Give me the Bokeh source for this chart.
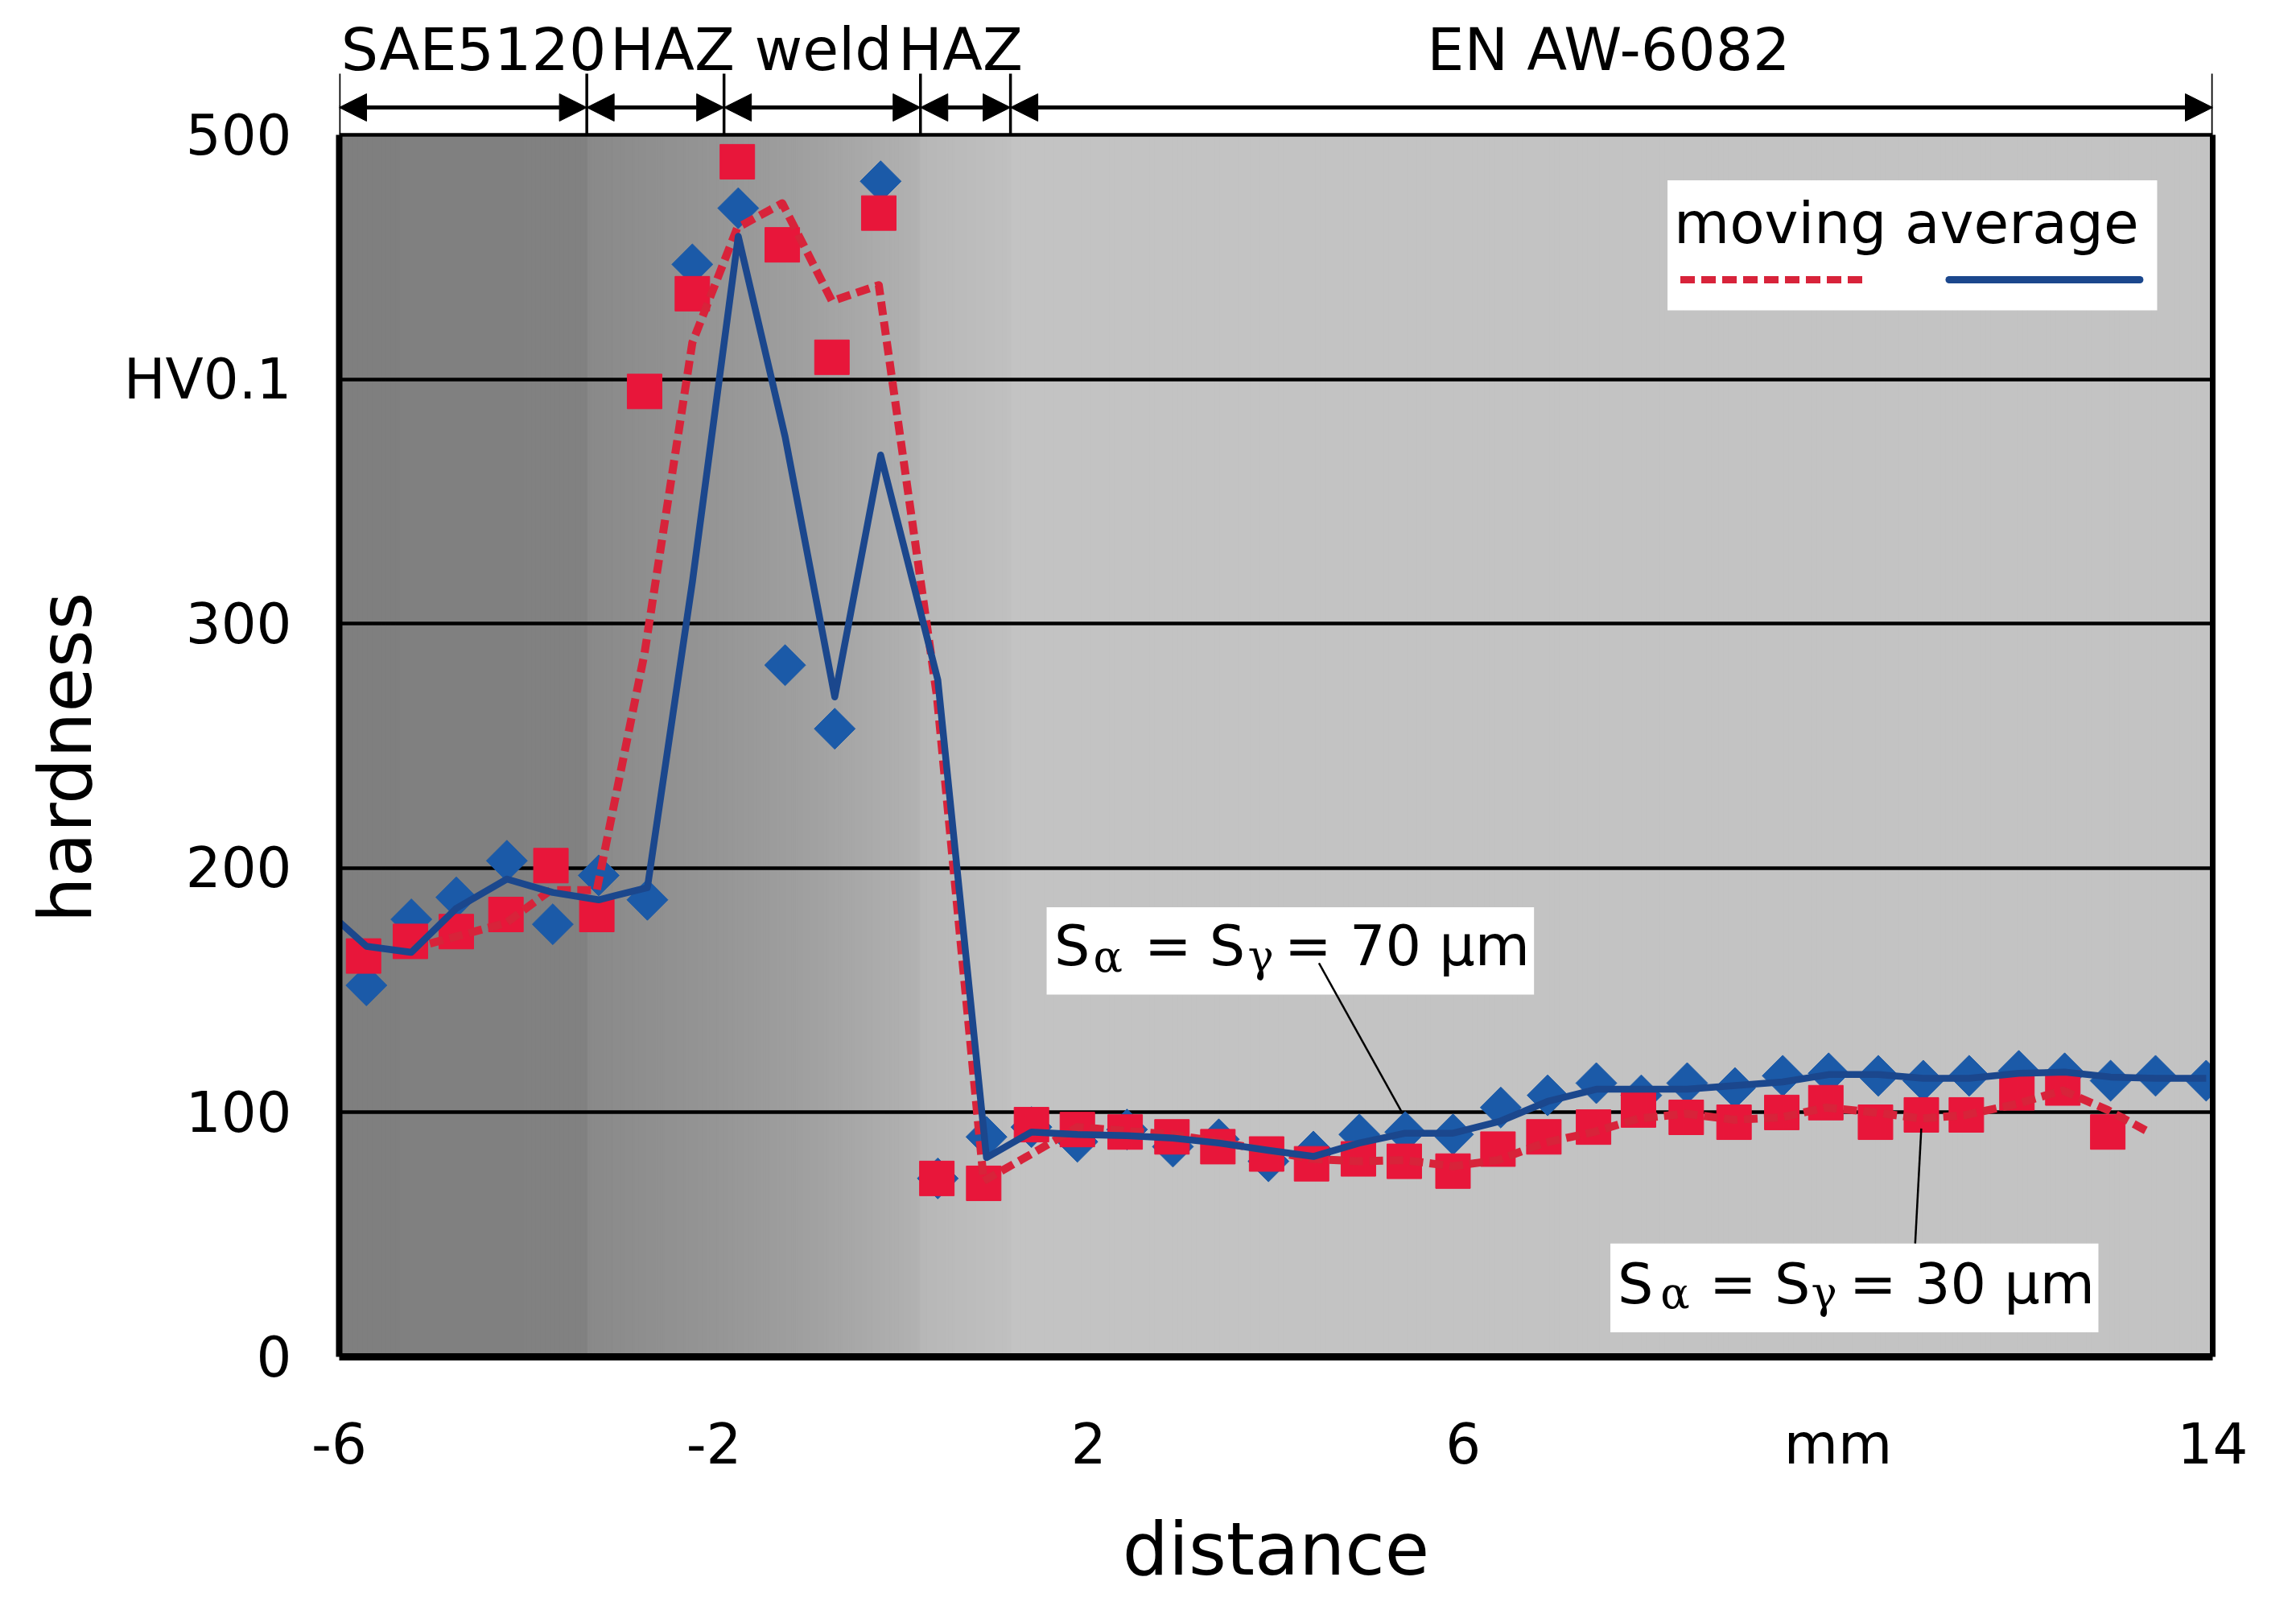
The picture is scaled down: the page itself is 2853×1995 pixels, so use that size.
import numpy as np
import pandas as pd
from bokeh.plotting import figure
from bokeh.models import (Range1d, FixedTicker, LinearAxis, Label, BoxAnnotation,
                          Arrow, NormalHead, ColumnDataSource, Title)
from bokeh.embed import file_html
from bokeh.resources import INLINE

# ---------------- data ----------------
# S = 70 um series (blue diamonds)
blue_x = [-5.71, -5.23, -4.75, -4.21, -3.72, -3.23, -2.71, -2.23, -1.74, -1.24, -0.71, -0.22,
          0.39, 0.91, 1.39, 1.88, 2.41, 2.90, 3.39, 3.92, 4.40, 4.89, 5.38, 5.89, 6.40, 6.90,
          7.42, 7.90, 8.39, 8.90, 9.41, 9.90, 10.43, 10.91, 11.40, 11.93, 12.42, 12.91, 13.39, 13.93]
blue_y = [152, 179, 188, 203, 177, 197, 187, 447, 470, 283, 257, 481,
          73, 90, 94, 88, 93, 86, 89, 80, 84, 91, 92, 91, 102, 107,
          112, 107, 112, 110, 115, 116, 115, 113, 115, 117, 116, 113, 115, 113]
# S = 30 um series (red squares)
red_x = [-5.74, -5.24, -4.75, -4.22, -3.74, -3.25, -2.74, -2.23, -1.75, -1.27, -0.74, -0.24,
         0.38, 0.88, 1.39, 1.88, 2.39, 2.89, 3.38, 3.90, 4.38, 4.88, 5.37, 5.89, 6.37, 6.86,
         7.39, 7.87, 8.38, 8.89, 9.40, 9.87, 10.40, 10.89, 11.37, 11.91, 12.40, 12.88]
red_y = [164, 170, 174, 181, 201, 181, 395, 435, 489, 455, 409, 468,
         73, 71, 95, 93, 92, 90, 86, 83, 79, 81, 80, 76, 85, 90,
         94, 101, 98, 96, 100, 104, 96, 99, 99, 108, 110, 92]
# visible parts of the moving-average lines outside the plotted points
blue_ma_head_x = [-6.0, -5.71]
blue_ma_head_y = [178, 168]
red_ma_tail_x = [13.34]
red_ma_tail_y = [91.5]

# material regions along the top
region_bounds = [-6.0, -3.357, -1.892, 0.205, 1.166, 14.0]
region_names = ["SAE5120", "HAZ", "weld", "HAZ", "EN AW-6082"]

x_ticks = [-6, -2, 2, 6, 10, 14]
x_tick_labels = ["-6", "-2", "2", "6", "mm", "14"]
y_ticks = [0, 100, 200, 300, 400, 500]
y_tick_labels = ["0", "100", "200", "300", "HV0.1", "500"]

# background grey gradient (grey level along x)
bg_stop_x = [-6.0, -3.36, -3.35, -1.9, -1.0, 0.2, 0.21, 1.17, 1.18, 14.0]
bg_stop_v = [127, 129, 137, 150, 160, 178, 183, 192, 195, 195]

# ---------------- styling ----------------
FONT = "DejaVu Sans"
BLUE_MK = "#1b5aa8"
BLUE_LN = "#1b478d"
RED_MK = "#e8163a"
RED_LN = "#d8233a"

Y_TOP = 1695 / 3.054
DY = 6.5  # baseline correction for labels (data units)

p = figure(width=2837, height=1979, x_range=Range1d(-6, 14), y_range=Range1d(0, Y_TOP),
           output_backend="svg", toolbar_location=None,
           min_border_left=421, min_border_right=88, min_border_top=0, min_border_bottom=284)
p.background_fill_color = "white"
p.border_fill_color = "white"
p.outline_line_color = None

# background gradient strips
edges = np.linspace(-6, 14, 801)
mids = (edges[:-1] + edges[1:]) / 2
levels = np.interp(mids, bg_stop_x, bg_stop_v).round().astype(int)
bg_colors = ["#%02x%02x%02x" % (v, v, v) for v in levels]
bg = p.quad(left=edges[:-1], right=edges[1:] + 0.01, bottom=0, top=500,
            fill_color=bg_colors, line_color=None)
bg.level = "image"

# grid
p.xgrid.grid_line_color = None
p.ygrid.ticker = FixedTicker(ticks=[100, 200, 300, 400, 500])
p.ygrid.grid_line_color = "black"
p.ygrid.grid_line_width = 4.5

# axes
xa = p.xaxis[0]
xa.ticker = FixedTicker(ticks=x_ticks)
xa.major_label_overrides = dict(zip(x_ticks, x_tick_labels))
xa.axis_line_width = 9
xa.axis_line_color = "black"
xa.major_tick_line_color = None
xa.minor_tick_line_color = None
xa.major_label_standoff = 62
xa.major_label_text_font = FONT
xa.major_label_text_font_size = "69px"
xa.major_label_text_color = "black"
xa.axis_label = "distance"
xa.axis_label_text_font = FONT
xa.axis_label_text_font_size = "90px"
xa.axis_label_text_font_style = "normal"
xa.axis_label_text_color = "black"
xa.axis_label_standoff = 35

ya = p.yaxis[0]
ya.ticker = FixedTicker(ticks=y_ticks)
ya.major_label_overrides = dict(zip(y_ticks, y_tick_labels))
ya.bounds = (0, 500)
ya.axis_line_width = 8
ya.axis_line_color = "black"
ya.major_tick_line_color = None
ya.minor_tick_line_color = None
ya.major_label_standoff = 53
ya.major_label_text_font = FONT
ya.major_label_text_font_size = "69px"
ya.major_label_text_color = "black"

# y axis title, placed along the 0..500 box (not centred on the taller frame)
p.add_layout(Title(text="hardness", align="left", offset=539, standoff=34,
                   text_font=FONT, text_font_size="90px", text_font_style="normal",
                   text_color="black"), "left")

ra = LinearAxis(bounds=(0, 500), ticker=FixedTicker(ticks=[]),
                axis_line_width=7, axis_line_color="black",
                major_tick_line_color=None, minor_tick_line_color=None,
                major_label_text_color=None)
p.add_layout(ra, "right")

# data markers
bsrc = ColumnDataSource(dict(x=blue_x, y=blue_y))
rsrc = ColumnDataSource(dict(x=red_x, y=red_y))
p.scatter("x", "y", source=bsrc, marker="square", angle=45, angle_units="deg",
          size=36, fill_color=BLUE_MK, line_color=BLUE_MK, line_width=1)
p.scatter("x", "y", source=rsrc, marker="square", size=43,
          fill_color=RED_MK, line_color=RED_MK, line_width=1)

# moving averages (2-point)
blue_ma = pd.Series(blue_y, dtype=float).rolling(2).mean()
red_ma = pd.Series(red_y, dtype=float).rolling(2).mean()
bma_x = list(blue_ma_head_x) + list(blue_x[1:])
bma_y = list(blue_ma_head_y) + list(blue_ma[1:])
rma_x = list(red_x[1:]) + list(red_ma_tail_x)
rma_y = list(red_ma[1:]) + list(red_ma_tail_y)

p.line(rma_x, rma_y, line_color=RED_LN, line_width=10, line_dash="17 8",
       line_join="round")
p.line(bma_x, bma_y, line_color=BLUE_LN, line_width=8.5, line_join="round")

# region markers above the plot
ARROW_Y = 511.2
for b in region_bounds:
    p.add_layout(Arrow(start=None, end=None, x_start=b, y_start=500, x_end=b, y_end=525,
                       line_color="black", line_width=3.5))
for a, b in zip(region_bounds[:-1], region_bounds[1:]):
    p.add_layout(Arrow(start=NormalHead(size=34, fill_color="black", line_color="black", line_width=1),
                       end=NormalHead(size=34, fill_color="black", line_color="black", line_width=1),
                       x_start=a, y_start=ARROW_Y, x_end=b, y_end=ARROW_Y,
                       line_color="black", line_width=5))
region_label_x = [-5.98, -2.443, -0.832, 0.632, 7.552]
region_label_align = ["left", "center", "center", "center", "center"]
for name, lx, al in zip(region_names, region_label_x, region_label_align):
    p.add_layout(Label(x=lx, y=528.4 + DY, text=name, text_align=al, text_baseline="alphabetic",
                       text_font=FONT, text_font_size="73px", text_color="black"))

# legend box
p.add_layout(BoxAnnotation(left=8.18, right=13.407, bottom=428.2, top=481.4,
                           fill_color="white", fill_alpha=1.0, line_color=None))
p.add_layout(Label(x=8.248, y=457.4 + DY, text="moving average", text_align="left",
                   text_baseline="alphabetic", text_font=FONT, text_font_size="71px",
                   text_color="black"))
p.add_layout(Arrow(start=None, end=None, x_start=8.317, y_start=440.7, x_end=10.319, y_end=440.7,
                   line_color=RED_LN, line_width=9, line_dash="18 8"))
p.add_layout(Arrow(start=None, end=None, x_start=11.186, y_start=440.7, x_end=13.222, y_end=440.7,
                   line_color=BLUE_LN, line_width=9, line_cap="round"))


def s_label(x_pieces, base_y, sub_y, tail):
    xs, xa_, xeq, xg, xeq2 = x_pieces
    items = [
        (xs, base_y, "S", "70px", "DejaVu Sans"),
        (xa_, sub_y, "α", "54px", "DejaVu Serif"),
        (xeq, base_y, "= S", "70px", "DejaVu Sans"),
        (xg, sub_y, "γ", "54px", "DejaVu Serif"),
        (xeq2, base_y, tail, "70px", "DejaVu Sans"),
    ]
    for x, y, t, fs, fnt in items:
        p.add_layout(Label(x=x, y=y + DY, text=t, text_align="left", text_baseline="alphabetic",
                           text_font=fnt, text_font_size=fs, text_color="black"))


# S = 70 um annotation
p.add_layout(BoxAnnotation(left=1.552, right=6.755, bottom=148.2, top=184.0,
                           fill_color="white", fill_alpha=1.0, line_color=None))
s_label([1.634, 2.05, 2.595, 3.70, 4.09], 161.8, 157.3, "= 70 μm")
p.add_layout(Arrow(start=None, end=None, x_start=4.459, y_start=161.1, x_end=5.351, y_end=99.6,
                   line_color="black", line_width=2.5))

# S = 30 um annotation
p.add_layout(BoxAnnotation(left=7.570, right=12.780, bottom=10.02, top=46.36,
                           fill_color="white", fill_alpha=1.0, line_color=None))
s_label([7.647, 8.105, 8.627, 9.714, 10.122], 23.2, 19.4, "= 30 μm")
p.add_layout(Arrow(start=None, end=None, x_start=10.824, y_start=46.4, x_end=10.889, y_end=93.4,
                   line_color="black", line_width=2.5))

open("out.html", "w").write(file_html(p, INLINE))
